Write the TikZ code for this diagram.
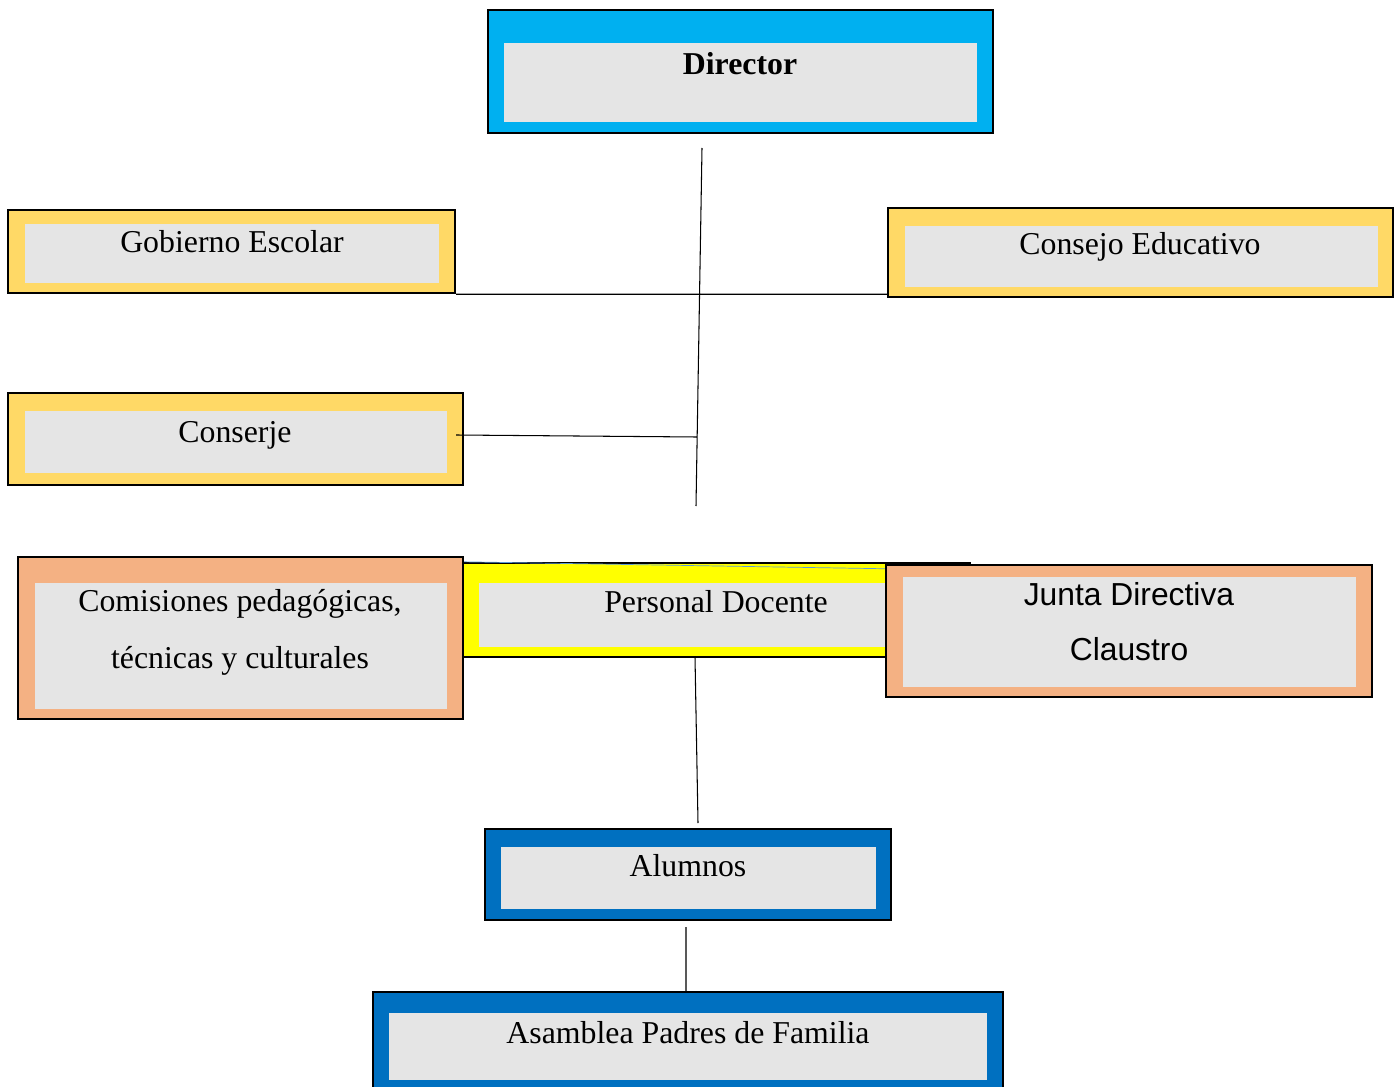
\documentclass[tikz,border=0pt]{standalone}
\usepackage{fontspec}
\setmainfont{Liberation Serif}
\newfontfamily\arialfont{Liberation Sans}
\usepackage{tikz}
\definecolor{dirblue}{HTML}{00B0F0}
\definecolor{goldband}{HTML}{FFD966}
\definecolor{salmon}{HTML}{F4B183}
\definecolor{brightyellow}{HTML}{FFFF00}
\definecolor{deepblue}{HTML}{0070C0}
\definecolor{innergray}{HTML}{E5E5E5}
\definecolor{thinblue}{HTML}{5B9BD5}
\usetikzlibrary{positioning}
\tikzset{
	outer/.style={
		rectangle,
		draw=black,
		line width=1.4pt,
		inner sep=0pt
	},
	inner/.style={
		rectangle,
		fill=innergray,
		inner sep=0pt
	},
	label text/.style={
		anchor=base,
		inner sep=0pt,
		font=\fontsize{18.1}{22}\selectfont
	},
	link/.style={
		draw=black,
		line width=0.6pt
	},
}

\begin{document}
\begin{tikzpicture}
\useasboundingbox (0,0) rectangle (27.94,-21.74);
\clip (0,0) rectangle (27.94,-21.74);
% Director
\node [outer,fill=dirblue,minimum width=10.1cm,minimum height=2.46cm] (dir) at (14.81,-1.43) {};
\node [inner,minimum width=9.46cm,minimum height=1.58cm] (dir-in) at (14.81,-1.65) {};
\node [label text,font=\fontsize{18.1}{22}\selectfont\bfseries] (dir-txt) at (14.8,-1.5) {Director};
% Gobierno Escolar
\node [outer,fill=goldband,minimum width=8.94cm,minimum height=1.66cm] (gob) at (4.63,-5.03) {};
\node [inner,minimum width=8.28cm,minimum height=1.18cm] (gob-in) at (4.64,-5.07) {};
\node [label text] (gob-txt) at (4.64,-5.06) {Gobierno Escolar};
% Consejo Educativo
\node [outer,fill=goldband,minimum width=10.1cm,minimum height=1.78cm] (cons) at (22.81,-5.05) {};
\node [inner,minimum width=9.46cm,minimum height=1.22cm] (cons-in) at (22.83,-5.13) {};
\node [label text] (cons-txt) at (22.8,-5.08) {Consejo Educativo};
% Conserje
\node [outer,fill=goldband,minimum width=9.1cm,minimum height=1.84cm] (conj) at (4.71,-8.78) {};
\node [inner,minimum width=8.44cm,minimum height=1.24cm] (conj-in) at (4.72,-8.84) {};
\node [label text] (conj-txt) at (4.7,-8.84) {Conserje};
% Personal Docente
\node [outer,fill=brightyellow,minimum width=10.14cm,minimum height=1.88cm] (doc) at (14.33,-12.2) {};
\node [inner,minimum width=9.52cm,minimum height=1.28cm] (doc-in) at (14.34,-12.3) {};
\node [label text] (doc-txt) at (14.32,-12.25) {Personal Docente};
\draw [thinblue,line width=0.4pt] (doc.north west) -- ([xshift=-1.7cm,yshift=-0.14cm]doc.north east);
% Comisiones
\node [outer,fill=salmon,minimum width=8.9cm,minimum height=3.24cm] (com) at (4.81,-12.76) {};
\node [inner,minimum width=8.24cm,minimum height=2.52cm] (com-in) at (4.82,-12.92) {};
\node [label text] (com-txt1) at (4.8,-12.22) {Comisiones pedagógicas,};
\node [label text] (com-txt2) at (4.8,-13.36) {técnicas y culturales};
% Junta Directiva
\node [outer,fill=salmon,minimum width=9.72cm,minimum height=2.64cm] (jun) at (22.58,-12.62) {};
\node [inner,minimum width=9.06cm,minimum height=2.2cm] (jun-in) at (22.59,-12.64) {};
\node [label text,font=\fontsize{18.1}{22}\arialfont] (jun-txt1) at (22.58,-12.1) {Junta Directiva};
\node [label text,font=\fontsize{18.1}{22}\arialfont] (jun-txt2) at (22.58,-13.2) {Claustro};
% Alumnos
\node [outer,fill=deepblue,minimum width=8.12cm,minimum height=1.82cm] (alu) at (13.76,-17.49) {};
\node [inner,minimum width=7.5cm,minimum height=1.24cm] (alu-in) at (13.77,-17.56) {};
\node [label text] (alu-txt) at (13.76,-17.52) {Alumnos};
% Asamblea
\node [outer,fill=deepblue,minimum width=12.6cm,minimum height=2.0cm] (asa) at (13.76,-20.84) {};
\node [inner,minimum width=11.96cm,minimum height=1.34cm] (asa-in) at (13.76,-20.93) {};
\node [label text] (asa-txt) at (13.76,-20.86) {Asamblea Padres de Familia};

\coordinate (trunk-top) at (14.04,-2.96);
\coordinate (trunk-bot) at (13.92,-10.12);
\coordinate (trunk-mid) at (13.94,-8.74);
\coordinate (doc-out) at (13.9,-13.14);
\coordinate (alu-top) at (13.96,-16.46);
\coordinate (alu-out) at (13.72,-18.54);

\path[link]
(trunk-top) -- (trunk-bot)
(gob.south east) -- (gob.south east -| cons.west)
([xshift=-0.16cm,yshift=0.08cm]conj.east) -- (trunk-mid)
(doc-out) -- (alu-top)
(alu-out) -- (alu-out |- asa.north)
;
\end{tikzpicture}
\end{document}
